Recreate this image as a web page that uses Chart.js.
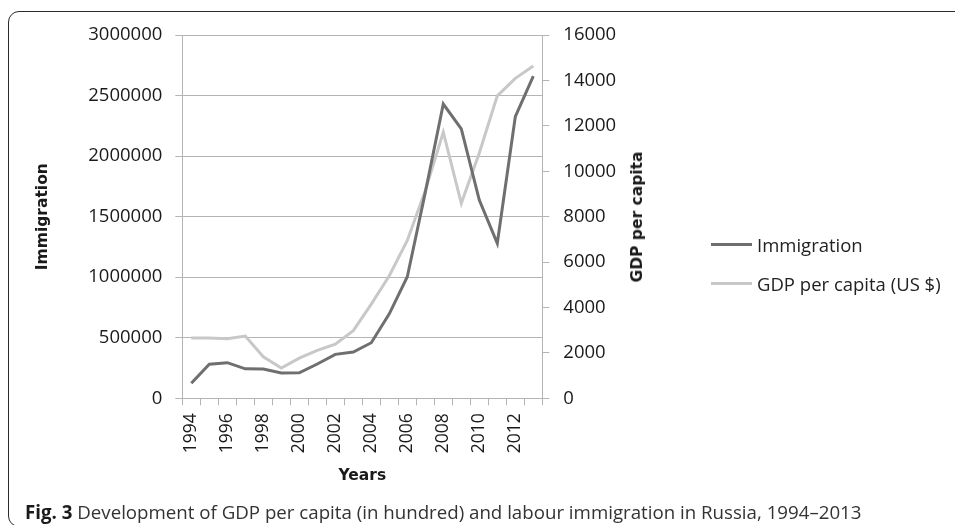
<!DOCTYPE html>
<html>
<head>
<meta charset="utf-8">
<script src="https://cdn.jsdelivr.net/npm/chart.js@4.4.1/dist/chart.umd.min.js"></script>
<style>
  html, body { margin: 0; padding: 0; background: #fff; }
  #wrap { position: relative; width: 955px; height: 525px; overflow: hidden; }
  #frame {
    position: absolute; left: 8px; top: 11px; width: 1100px; height: 516px;
    border: 1.5px solid #2a2a2a; border-radius: 11px; box-sizing: border-box;
  }
  #chartBox { position: absolute; left: 0; top: 0; width: 955px; height: 525px; }
  #gdpTitle {
    position: absolute; left: 637px; top: 217px; white-space: nowrap;
    font: bold 15.5px "DejaVu Sans"; color: #1a1a1a;
    transform: translate(-50%, -50%) rotate(-90deg);
  }
  #legend { position: absolute; left: 711px; top: 232px; font: 18.5px "Open Sans"; color: #222; }
  .item { display: flex; align-items: center; height: 24px; margin-bottom: 15px; }
  .swatch { width: 41px; height: 3px; margin-right: 5px; }
  #caption {
    position: absolute; left: 25px; top: 499px; line-height: 20px; white-space: nowrap;
    font: 18.7px "Open Sans"; color: #333;
  }
  #caption b { color: #1a1a1a; }
</style>
</head>
<body>
<div id="wrap">
  <div id="frame"></div>
  <div id="chartBox"><canvas id="migrationChart" width="955" height="525"></canvas></div>
  <div id="gdpTitle">GDP per capita</div>
  <div id="legend"></div>
  <div id="caption"><b>Fig. 3</b> Development of GDP per capita (in hundred) and labour immigration in Russia, 1994–2013</div>
</div>
<script>
  // Years on the x axis
  const years = ['1994', '1995', '1996', '1997', '1998', '1999', '2000', '2001', '2002', '2003',
                 '2004', '2005', '2006', '2007', '2008', '2009', '2010', '2011', '2012', '2013'];

  // Labour immigration (persons), left axis
  const immigration = [125000, 282000, 294000, 243000, 242000, 209000, 210000, 283000, 363000, 382000,
                       459000, 697000, 1004000, 1700000, 2430000, 2224000, 1637000, 1280000, 2325000, 2661000];

  // GDP per capita (US $), right axis
  const gdpPerCapita = [2660, 2660, 2620, 2740, 1830, 1330, 1770, 2110, 2380, 2980,
                        4150, 5400, 6950, 9150, 11720, 8590, 10800, 13320, 14090, 14630];

  const lineGrey = '#b4b4b4';
  const tickFont = { family: 'Open Sans', size: 18.5 };
  const plain = v => String(v); // no thousands separators

  const chart = new Chart(document.getElementById('migrationChart').getContext('2d'), {
    type: 'line',
    data: {
      labels: years,
      datasets: [{
        label: 'Immigration',
        data: immigration,
        yAxisID: 'y',
        borderColor: '#6f6f6f',
        borderWidth: 3,
        pointRadius: 0,
        tension: 0
      }, {
        label: 'GDP per capita (US $)',
        data: gdpPerCapita,
        yAxisID: 'y1',
        borderColor: '#c8c8c8',
        borderWidth: 3,
        pointRadius: 0,
        tension: 0
      }]
    },
    options: {
      responsive: false,
      animation: false,
      layout: { padding: { top: 35, left: 0, right: 332.7, bottom: 38 } },
      plugins: {
        legend: { display: false },
        tooltip: { enabled: false }
      },
      scales: {
        x: {
          offset: true,
          grid: { offset: true, drawOnChartArea: false, tickLength: 7, color: lineGrey },
          border: { color: lineGrey },
          ticks: {
            autoSkip: false, minRotation: 90, maxRotation: 90, padding: 8,
            color: '#1a1a1a', font: { family: 'Open Sans', size: 17.5 },
            callback: (v, i) => (i % 2 === 0 ? years[i] : '')
          },
          title: {
            display: true, text: 'Years', color: '#1a1a1a',
            font: { family: 'DejaVu Sans', size: 15.5, weight: 'bold' },
            padding: { top: 0, bottom: 2 }
          },
          afterFit: s => { s.height = 88.7; }
        },
        y: {
          position: 'left',
          min: 0, max: 3000000,
          grid: { tickLength: 7, color: lineGrey },
          border: { color: lineGrey },
          ticks: { stepSize: 500000, padding: 13, color: '#1a1a1a', font: tickFont, callback: plain },
          title: {
            display: true, text: 'Immigration', color: '#1a1a1a',
            font: { family: 'DejaVu Sans', size: 15.5, weight: 'bold' },
            padding: { top: 33.4, bottom: 0 }
          },
          afterFit: s => { s.width = 182.3; }
        },
        y1: {
          position: 'right',
          min: 0, max: 16000,
          grid: { drawOnChartArea: false, tickLength: 7, color: lineGrey },
          border: { color: lineGrey },
          ticks: { stepSize: 2000, padding: 14, color: '#1a1a1a', font: tickFont, callback: plain },
          afterFit: s => { s.width = 80; }
        }
      }
    }
  });

  // Legend built from the datasets
  const legend = document.getElementById('legend');
  chart.data.datasets.forEach(ds => {
    const row = document.createElement('div');
    row.className = 'item';
    const sw = document.createElement('span');
    sw.className = 'swatch';
    sw.style.background = ds.borderColor;
    const txt = document.createElement('span');
    txt.textContent = ds.label;
    row.appendChild(sw);
    row.appendChild(txt);
    legend.appendChild(row);
  });
</script>
</body>
</html>
